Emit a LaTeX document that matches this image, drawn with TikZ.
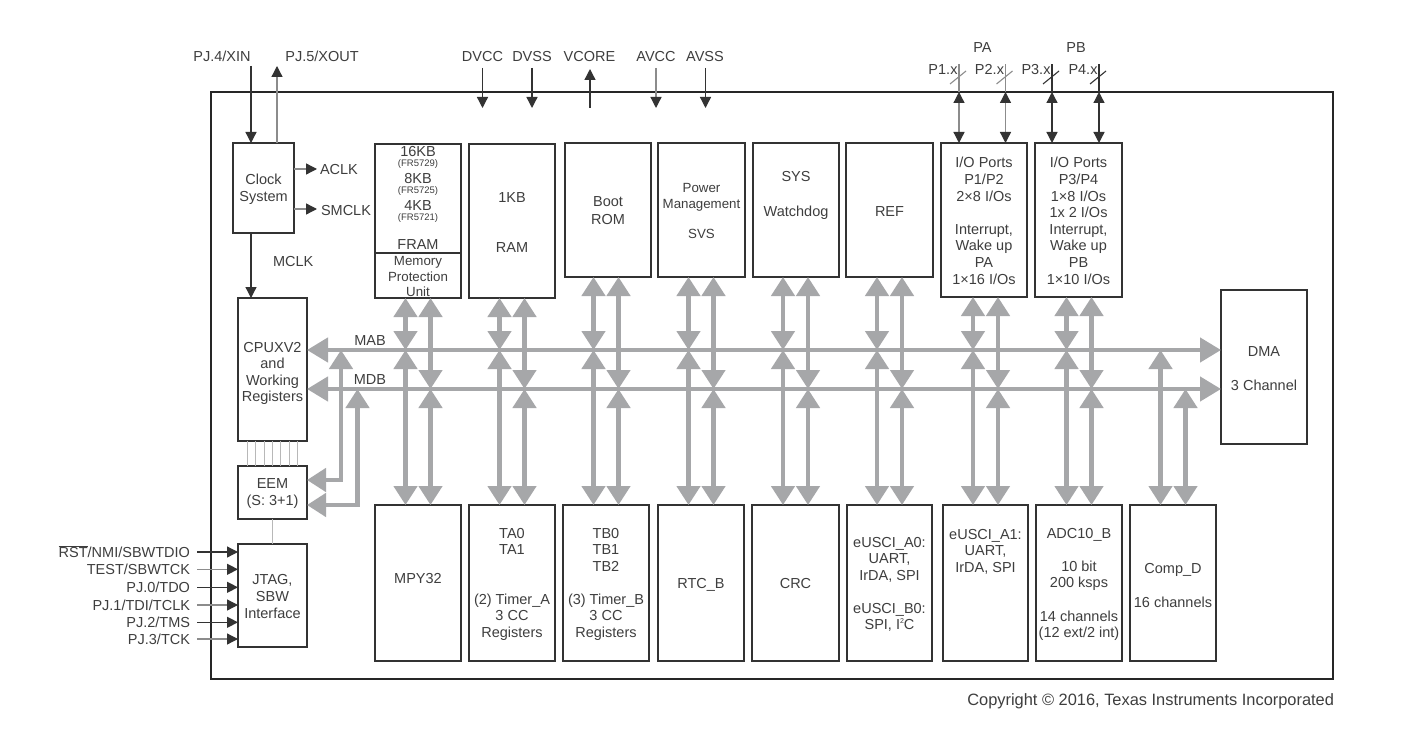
\documentclass[tikz,border=0pt]{standalone}
\usepackage{fontspec}
\setmainfont{Liberation Sans}
\usetikzlibrary{arrows.meta}

\definecolor{ink}{HTML}{3E3E3E}
\definecolor{boxline}{HTML}{333333}
\definecolor{busgray}{HTML}{A6A7A9}
\definecolor{wirelite}{HTML}{8C8C8C}
\definecolor{hairline}{HTML}{B8B8B8}

% one line of text, placed on its baseline
\newcommand\tline[4][lbl]{\node[#1] (#2) at (#3) {#4};}
% small raised figure, as in I2C
\newcommand\supfig[1]{\raisebox{0.75ex}{\fontsize{7}{7}\selectfont #1}}

\begin{document}
\begin{tikzpicture}[x=1pt, y=-1pt,
  every node/.style={inner sep=0pt, outer sep=0pt, text=ink},
  lbl/.style={anchor=base, font=\fontsize{14.5}{16.6}\selectfont},
  lblE/.style={lbl, anchor=base east},
  lblW/.style={lbl, anchor=base west},
  pmtxt/.style={anchor=base, font=\fontsize{13.3}{15}\selectfont},
  tinytxt/.style={anchor=base, font=\fontsize{9.5}{11}\selectfont},
  blk/.style={draw=boxline, line width=1.8pt, fill=white, anchor=north west},
  BusTip/.tip={Triangle[length=19pt, width=23pt]},
  BusTipH/.tip={Triangle[length=21pt, width=24pt]},
  bus/.style={draw=busgray, line width=4.5pt, BusTip-BusTip},
  busH/.style={draw=busgray, line width=4.5pt, BusTipH-BusTipH},
  PinTip/.tip={Triangle[length=11pt, width=11pt, color=boxline]},
  wire/.style={draw=boxline, line width=1.3pt},
  litewire/.style={draw=wirelite, line width=1.3pt},
  hair/.style={draw=hairline, line width=1pt},
]
\useasboundingbox (0,0) rectangle (1413,746);
\fill[white] (0,0) rectangle (1413,746);

% device outline
\node[blk, line width=2pt, draw=black!85, minimum width=1122, minimum height=587] (chip) at (211,92) {};

% left column
\node[blk, minimum width=61, minimum height=90]  (clk)  at (233,143) {};
\node[blk, minimum width=69, minimum height=143] (cpu)  at (238,298) {};
\node[blk, minimum width=69, minimum height=53]  (eem)  at (238,466) {};
\node[blk, minimum width=69, minimum height=103] (jtag) at (238,544) {};

% upper row of modules
\node[blk, minimum width=86, minimum height=154] (fram) at (375,144) {};
\node[blk, minimum width=86, minimum height=154] (ram)  at (469,144) {};
\node[blk, minimum width=86, minimum height=134] (boot) at (565,143) {};
\node[blk, minimum width=87, minimum height=134] (pm)   at (658,143) {};
\node[blk, minimum width=86, minimum height=134] (sys)  at (753,143) {};
\node[blk, minimum width=87, minimum height=134] (ref)  at (846,143) {};
\node[blk, minimum width=86, minimum height=154] (pa)   at (941,143) {};
\node[blk, minimum width=87, minimum height=154] (pb)   at (1035,143) {};
\node[blk, minimum width=86, minimum height=154] (dma)  at (1221,290) {};

% lower row of modules
\node[blk, minimum width=86, minimum height=156] (mpy) at (375,505) {};
\node[blk, minimum width=86, minimum height=156] (ta)  at (469,505) {};
\node[blk, minimum width=86, minimum height=156] (tb)  at (563,505) {};
\node[blk, minimum width=86, minimum height=156] (rtc) at (658,505) {};
\node[blk, minimum width=87, minimum height=156] (crc) at (752,505) {};
\node[blk, minimum width=85, minimum height=156] (ua0) at (847,505) {};
\node[blk, minimum width=85, minimum height=156] (ua1) at (943,505) {};
\node[blk, minimum width=86, minimum height=156] (adc) at (1036,505) {};
\node[blk, minimum width=86, minimum height=156] (cmp) at (1130,505) {};

% FRAM / MPU split
\coordinate (framdiv) at (0,253);
\draw[draw=boxline, line width=1.8pt] (fram.west |- framdiv) -- (fram.east |- framdiv);

% address and data buses
\coordinate (mab) at (0,350);
\coordinate (mdb) at (0,389);
\draw[busH] (cpu.east |- mab) -- (dma.west |- mab);
\draw[busH] (cpu.east |- mdb) -- (dma.west |- mdb);

\foreach \modA/\modB in {fram/mpy, ram/ta, boot/tb, pm/rtc, sys/crc, ref/ua0, pa/ua1, pb/adc}{
  \path (\modB.north) ++(-12.5,0) coordinate (l\modB) ++(25,0) coordinate (r\modB);
  \draw[bus] (l\modB |- \modA.south) -- (l\modB |- mab);
  \draw[bus] (l\modB |- mab) -- (l\modB);
  \draw[bus] (r\modB |- \modA.south) -- (r\modB |- mdb);
  \draw[bus] (r\modB |- mdb) -- (r\modB);
}
\path (cmp.north) ++(-12.5,0) coordinate (lcmp) ++(25,0) coordinate (rcmp);
\draw[bus] (lcmp |- mab) -- (lcmp);
\draw[bus] (rcmp |- mdb) -- (rcmp);

% EEM taps on the buses
\coordinate (eemA) at (341,480);
\coordinate (eemB) at (357.5,505);
\draw[bus] (eemA |- mab) -- (eemA) -- (eem.east |- eemA);
\draw[bus] (eemB |- mdb) -- (eemB) -- (eem.east |- eemB);

% CPU to EEM, EEM to JTAG
\foreach \i in {-3,...,3}
  \draw[hair] ([xshift=8.3*\i]cpu.south) -- ([xshift=8.3*\i]eem.north);
\draw[hair] (eem.south) -- (jtag.north);

% clock pins and clock outputs
\coordinate (xin) at (251,66);
\coordinate (xout) at (277,66);
\draw[wire, -PinTip] (xin) -- (xin |- clk.north);
\draw[litewire, -PinTip] (xout |- clk.north) -- (xout);
\tline{xinL}{222,62}{PJ.4/XIN}
\tline{xoutL}{322,62}{PJ.5/XOUT}
\coordinate (aclk) at (317,169);
\coordinate (smclk) at (317,209);
\draw[litewire, -PinTip] (clk.east |- aclk) -- (aclk);
\draw[litewire, -PinTip] (clk.east |- smclk) -- (smclk);
\tline[lblW]{aclkL}{320,175}{ACLK}
\tline[lblW]{smclkL}{321,215}{SMCLK}
\draw[wire, -PinTip] (clk.south -| xin) -- (cpu.north -| xin);
\tline[lblW]{mclkL}{273,266}{MCLK}

% supply pins
\coordinate (dvcc) at (482.5,68);  \coordinate (dvccI) at (482.5,108);
\coordinate (dvss) at (532,68);    \coordinate (dvssI) at (532,108);
\coordinate (vcore) at (590,69);   \coordinate (vcoreI) at (590,108);
\coordinate (avcc) at (656,68);    \coordinate (avccI) at (656,108);
\coordinate (avss) at (705.5,68);  \coordinate (avssI) at (705.5,108);
\draw[wire, -PinTip] (dvcc) -- (dvccI);
\draw[wire, -PinTip] (dvss) -- (dvssI);
\draw[wire, -PinTip] (vcoreI) -- (vcore);
\draw[litewire, -PinTip] (avcc) -- (avccI);
\draw[wire, -PinTip] (avss) -- (avssI);
\tline{dvccL}{482.5,62}{DVCC}
\tline{dvssL}{532,62}{DVSS}
\tline{vcoreL}{589.5,62}{VCORE}
\tline{avccL}{656,62}{AVCC}
\tline{avssL}{705,62}{AVSS}

% port pins
\tline{paL}{982.5,53}{PA}
\tline{pbL}{1076,53}{PB}
\foreach \nm/\x/\lab/\col/\dst in {p1/959/P1.x/wirelite/pa, p2/1005.5/P2.x/wirelite/pa,
                                 p3/1052/P3.x/boxline/pb, p4/1099/P4.x/boxline/pb}{
  \coordinate (\nm) at (\x,64);
  \draw[draw=\col, line width=1.3pt] (\nm |- chip.north) -- (\nm);
  \draw[draw=\col, line width=1.1pt] (\nm) ++(-9,20) -- ++(16,-13);
  \draw[draw=\col, line width=1.3pt, PinTip-PinTip] (\nm |- chip.north) -- (\nm |- \dst.north);
  \node[lblE] (\nm L) at (\x-1.5,75) {\lab};
}

% JTAG pins
\coordinate (j1) at (197,552);
\coordinate (j2) at (197,569.3);
\coordinate (j3) at (197,587.3);
\coordinate (j4) at (197,605);
\coordinate (j5) at (197,622.3);
\coordinate (j6) at (197,639);
\draw[wire, -PinTip] (j1) -- (jtag.west |- j1);
\draw[litewire, -PinTip] (j2) -- (jtag.west |- j2);
\draw[wire, -PinTip] (j3) -- (jtag.west |- j3);
\draw[litewire, -PinTip] (j4) -- (jtag.west |- j4);
\draw[wire, -PinTip] (j5) -- (jtag.west |- j5);
\draw[litewire, -PinTip] (j6) -- (jtag.west |- j6);
\tline[lblE]{j1L}{190,557.5}{$\overline{\mbox{RST}}$/NMI/SBWTDIO}
\tline[lblE]{j2L}{190,574.8}{TEST/SBWTCK}
\tline[lblE]{j3L}{190,592.8}{PJ.0/TDO}
\tline[lblE]{j4L}{190,610.5}{PJ.1/TDI/TCLK}
\tline[lblE]{j5L}{190,627.8}{PJ.2/TMS}
\tline[lblE]{j6L}{190,644.5}{PJ.3/TCK}

% module texts
\tline{clkT1}{263.5,185}{Clock}
\tline{clkT2}{263.5,201}{System}

\tline{cpuT1}{272.5,352}{CPUXV2}
\tline{cpuT2}{272.5,368.6}{and}
\tline{cpuT3}{272.5,385.2}{Working}
\tline{cpuT4}{272.5,401.8}{Registers}

\tline{eemT1}{272.5,488}{EEM}
\tline{eemT2}{272.5,505}{(S: 3+1)}

\tline{jtagT1}{272.5,584}{JTAG,}
\tline{jtagT2}{272.5,601}{SBW}
\tline{jtagT3}{272.5,618}{Interface}

\tline{frT1}{418,157}{16KB}
\tline[tinytxt]{frT2}{418,167}{(FR5729)}
\tline{frT3}{418,184}{8KB}
\tline[tinytxt]{frT4}{418,194}{(FR5725)}
\tline{frT5}{418,211}{4KB}
\tline[tinytxt]{frT6}{418,221}{(FR5721)}
\tline{frT7}{418,249}{FRAM}
\tline[pmtxt]{mpuT1}{418,265}{Memory}
\tline[pmtxt]{mpuT2}{418,281}{Protection}
\tline[pmtxt]{mpuT3}{418,296}{Unit}

\tline{ramT1}{512,203}{1KB}
\tline{ramT2}{512,252}{RAM}

\tline{bootT1}{608,207}{Boot}
\tline{bootT2}{608,225}{ROM}

\tline[pmtxt]{pmT1}{701.5,193}{Power}
\tline[pmtxt]{pmT2}{701.5,208}{Management}
\tline[pmtxt]{pmT3}{701.5,238}{SVS}

\tline{sysT1}{796,182}{SYS}
\tline{sysT2}{796,216}{Watchdog}

\tline{refT}{889.5,217}{REF}

\tline{paT1}{984,168}{I/O Ports}
\tline{paT2}{984,184.6}{P1/P2}
\tline{paT3}{984,201.2}{2×8 I/Os}
\tline{paT4}{984,234.4}{Interrupt,}
\tline{paT5}{984,251}{Wake up}
\tline{paT6}{984,267.6}{PA}
\tline{paT7}{984,284.2}{1×16 I/Os}

\tline{pbT1}{1078.5,168}{I/O Ports}
\tline{pbT2}{1078.5,184.6}{P3/P4}
\tline{pbT3}{1078.5,201.2}{1×8 I/Os}
\tline{pbT4}{1078.5,217.8}{1x 2 I/Os}
\tline{pbT5}{1078.5,234.4}{Interrupt,}
\tline{pbT6}{1078.5,251}{Wake up}
\tline{pbT7}{1078.5,267.6}{PB}
\tline{pbT8}{1078.5,284.2}{1×10 I/Os}

\tline{dmaT1}{1264,356}{DMA}
\tline{dmaT2}{1264,390}{3 Channel}

\tline{mabL}{370,345}{MAB}
\tline{mdbL}{370,384}{MDB}

\tline{mpyT}{418,583}{MPY32}

\tline{taT1}{512,538}{TA0}
\tline{taT2}{512,554.6}{TA1}
\tline{taT3}{512,604}{(2) Timer\_A}
\tline{taT4}{512,620.6}{3 CC}
\tline{taT5}{512,637.2}{Registers}

\tline{tbT1}{606,538}{TB0}
\tline{tbT2}{606,554.6}{TB1}
\tline{tbT3}{606,571.2}{TB2}
\tline{tbT4}{606,604}{(3) Timer\_B}
\tline{tbT5}{606,620.6}{3 CC}
\tline{tbT6}{606,637.2}{Registers}

\tline{rtcT}{701,588}{RTC\_B}
\tline{crcT}{795.5,588}{CRC}

\tline{ua0T1}{889.5,547}{eUSCI\_A0:}
\tline{ua0T2}{889.5,563.6}{UART,}
\tline{ua0T3}{889.5,580.2}{IrDA, SPI}
\tline{ua0T4}{889.5,613}{eUSCI\_B0:}
\tline{ua0T5}{889.5,629.6}{SPI, I\supfig{2}C}

\tline{ua1T1}{985.5,539}{eUSCI\_A1:}
\tline{ua1T2}{985.5,555.6}{UART,}
\tline{ua1T3}{985.5,572.2}{IrDA, SPI}

\tline{adcT1}{1079,538}{ADC10\_B}
\tline{adcT2}{1079,571}{10 bit}
\tline{adcT3}{1079,587.6}{200 ksps}
\tline{adcT4}{1079,621}{14 channels}
\tline{adcT5}{1079,637.6}{(12 ext/2 int)}

\tline{cmpT1}{1173,573}{Comp\_D}
\tline{cmpT2}{1173,607}{16 channels}

\node[lbl, anchor=base east, font=\fontsize{16.4}{19}\selectfont] (copy) at (1334,705)
  {Copyright © 2016, Texas Instruments Incorporated};
\end{tikzpicture}
\end{document}
